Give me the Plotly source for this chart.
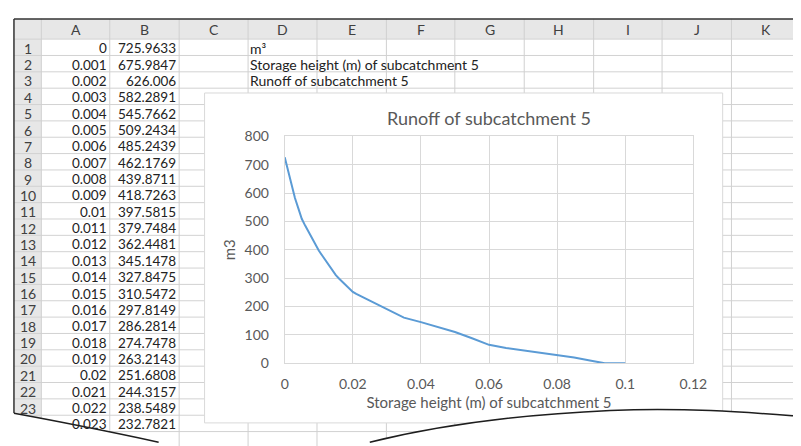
import plotly.graph_objects as go

W, H = 801, 446
OX, OY = 8, 8   # page body margin: figure origin lands at (8, 8) on screen

# ---------------- data ----------------
col_a = [0, 0.001, 0.002, 0.003, 0.004, 0.005, 0.006, 0.007, 0.008, 0.009, 0.01,
         0.011, 0.012, 0.013, 0.014, 0.015, 0.016, 0.017, 0.018, 0.019, 0.02,
         0.021, 0.022, 0.023]
col_b = [725.9633, 675.9847, 626.006, 582.2891, 545.7662, 509.2434, 485.2439,
         462.1769, 439.8711, 418.7263, 397.5815, 379.7484, 362.4481, 345.1478,
         327.8475, 310.5472, 297.8149, 286.2814, 274.7478, 263.2143, 251.6808,
         244.3157, 238.5489, 232.7821]
tail_x = [0.025, 0.03, 0.035, 0.04, 0.045, 0.05, 0.055, 0.06, 0.065, 0.07,
          0.075, 0.08, 0.085, 0.09, 0.094, 0.1]
tail_y = [221, 190, 161, 145, 128, 110, 88, 65, 54, 46, 37, 29, 20, 9, 0, 0]

col_letters = ["A", "B", "C", "D", "E", "F", "G", "H", "I", "J", "K"]
cell_texts = ["m³", "Storage height (m) of subcatchment 5",
              "Runoff of subcatchment 5"]
chart_title = "Runoff of subcatchment 5"
x_title = "Storage height (m) of subcatchment 5"
y_title = "m3"

# ---------------- geometry (screen pixels) ----------------
SHEET_L, SHEET_T = 10, 10
HDR_B = 31
ROW_H = 17
col_edges = [38, 108, 179, 249.5, 320, 391, 461, 532, 603, 673, 744, 815]
CH_L, CH_T, CH_R, CH_B = 205, 87, 735, 430
PL_L, PL_T, PL_R, PL_B = 287, 132, 705, 368

FONT = "Lato, Carlito, Calibri, sans-serif"


def X(px):
    return (px - OX) / W


def Y(py):
    return 1 - (py - OY) / H


def pt(px, py):
    return f"{X(px):.5f},{Y(py):.5f}"


shapes = []
annotations = []

# header backgrounds
shapes.append(dict(type="rect", xref="paper", yref="paper", layer="below",
                   x0=X(SHEET_L), x1=X(820), y0=Y(SHEET_T), y1=Y(HDR_B),
                   fillcolor="#e7e7e7", line=dict(width=0)))
shapes.append(dict(type="rect", xref="paper", yref="paper", layer="below",
                   x0=X(SHEET_L), x1=X(col_edges[0]), y0=Y(HDR_B), y1=Y(460),
                   fillcolor="#e7e7e7", line=dict(width=0)))
# horizontal grid lines
for k in range(26):
    yy = HDR_B + k * ROW_H
    shapes.append(dict(type="line", xref="paper", yref="paper", layer="below",
                       x0=X(SHEET_L), x1=X(820), y0=Y(yy), y1=Y(yy),
                       line=dict(color="#d2d2d2", width=1)))
# vertical grid lines
for xe in col_edges:
    shapes.append(dict(type="line", xref="paper", yref="paper", layer="below",
                       x0=X(xe), x1=X(xe), y0=Y(SHEET_T), y1=Y(460),
                       line=dict(color="#d0d0d0", width=1)))
# chart area
shapes.append(dict(type="rect", xref="paper", yref="paper", layer="below",
                   x0=X(CH_L), x1=X(CH_R), y0=Y(CH_B), y1=Y(CH_T),
                   fillcolor="white", line=dict(color="#d9d9d9", width=1)))
# sheet top/left border
shapes.append(dict(type="line", xref="paper", yref="paper", layer="above",
                   x0=X(SHEET_L), x1=X(820), y0=Y(SHEET_T), y1=Y(SHEET_T),
                   line=dict(color="#333333", width=1.5)))
shapes.append(dict(type="line", xref="paper", yref="paper", layer="above",
                   x0=X(SHEET_L), x1=X(SHEET_L), y0=Y(SHEET_T), y1=Y(420),
                   line=dict(color="#333333", width=1.5)))

# torn edges
left_curve = f"M {pt(10, 420)} Q {pt(75, 432)} {pt(158, 450)}"
left_mask = left_curve + f" L {pt(158, 480)} L {pt(0, 480)} L {pt(0, 420)} Z"
right_curve = (f"M {pt(374, 450)} C {pt(430, 436)} {pt(510, 422)} {pt(620, 417)} "
               f"C {pt(700, 414)} {pt(760, 419)} {pt(812, 423)}")
right_mask = right_curve + f" L {pt(812, 480)} L {pt(374, 480)} Z"
for m in (left_mask, right_mask):
    shapes.append(dict(type="path", xref="paper", yref="paper", layer="above",
                       path=m, fillcolor="white", line=dict(width=0)))
for c in (left_curve, right_curve):
    shapes.append(dict(type="path", xref="paper", yref="paper", layer="above",
                       path=c, line=dict(color="#1e1e1e", width=1.5)))

# column headers
for i, lab in enumerate(col_letters):
    cx = (col_edges[i] + col_edges[i + 1]) / 2
    annotations.append(dict(xref="paper", yref="paper", x=X(cx), y=Y((SHEET_T + HDR_B) / 2 + 1),
                            text=lab, showarrow=False, xanchor="center", yanchor="middle",
                            font=dict(family=FONT, size=14, color="#404040")))
# row numbers and cell values
for r in range(len(col_a)):
    cy = HDR_B + (r + 0.5) * ROW_H + 1
    if r < 23:
        annotations.append(dict(xref="paper", yref="paper", x=X(24), y=Y(cy),
                                text=str(r + 1), showarrow=False, xanchor="center",
                                yanchor="middle",
                                font=dict(family=FONT, size=14, color="#404040")))
    annotations.append(dict(xref="paper", yref="paper", x=X(col_edges[1] - 1), y=Y(cy),
                            text="{:g}".format(col_a[r]), showarrow=False, xanchor="right",
                            yanchor="middle", font=dict(family=FONT, size=13.5, color="#222222")))
    annotations.append(dict(xref="paper", yref="paper", x=X(col_edges[2] - 1), y=Y(cy),
                            text=str(col_b[r]), showarrow=False, xanchor="right",
                            yanchor="middle", font=dict(family=FONT, size=13.5, color="#222222")))
for r, t in enumerate(cell_texts):
    cy = HDR_B + (r + 0.5) * ROW_H + 1
    annotations.append(dict(xref="paper", yref="paper", x=X(col_edges[3]), y=Y(cy),
                            text=t, showarrow=False, xanchor="left", yanchor="middle",
                            font=dict(family=FONT, size=14, color="#222222")))

# ---------------- chart ----------------
fig = go.Figure()
fig.add_trace(go.Scatter(x=col_a + tail_x, y=col_b + tail_y, mode="lines",
                         line=dict(color="#5b9bd5", width=2), hoverinfo="skip",
                         showlegend=False))

axis_common = dict(showgrid=True, gridcolor="#d9d9d9", gridwidth=1, zeroline=False,
                   showline=True, mirror=True, linecolor="#d9d9d9", linewidth=1,
                   ticks="outside", tickcolor="rgba(0,0,0,0)",
                   tickfont=dict(family=FONT, size=14, color="#595959"))

fig.update_layout(
    width=W, height=H,
    margin=dict(l=0, r=0, t=0, b=0),
    paper_bgcolor="white", plot_bgcolor="rgba(0,0,0,0)",
    title=dict(text=chart_title, x=X((PL_L + PL_R) / 2), y=Y(114),
               xanchor="center", yanchor="middle", xref="paper", yref="paper",
               font=dict(family=FONT, size=18, color="#595959")),
    xaxis=dict(domain=[X(PL_L), X(PL_R)], range=[0, 0.12], dtick=0.02, ticklen=8,
               title=dict(text=x_title, standoff=6,
                          font=dict(family=FONT, size=15, color="#595959")),
               **axis_common),
    yaxis=dict(domain=[Y(PL_B), Y(PL_T)], range=[0, 800], dtick=100, ticklen=12,
               title=dict(text=y_title, standoff=5,
                          font=dict(family=FONT, size=15, color="#595959")),
               **axis_common),
    shapes=shapes,
    annotations=annotations,
)

fig.write_html("out.html")
